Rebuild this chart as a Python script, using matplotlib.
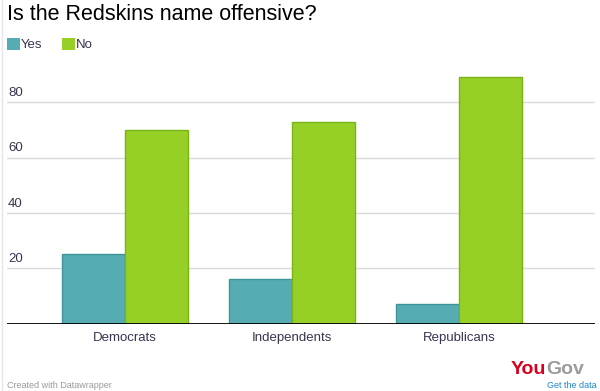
import matplotlib
matplotlib.use("Agg")
import matplotlib.pyplot as plt
from matplotlib.patches import Rectangle
from matplotlib.lines import Line2D
import matplotlib.transforms as mtransforms
import numpy as np

categories = ["Democrats", "Independents", "Republicans"]
yes_values = [25, 16, 7]
no_values = [70, 73, 89]
ytick_values = [20, 40, 60, 80]
series_names = ["Yes", "No"]

yes_color = "#55ACB2"
yes_edge = "#3F9499"
no_color = "#96D026"
no_edge = "#78B414"
text_color = "#3a3450"

plt.rcParams['font.family'] = ['Liberation Sans', 'DejaVu Sans']

fig = plt.figure(figsize=(6.0, 3.91), dpi=100)
ax = fig.add_axes([7/600, 67.4/391, 588/600, (323.6-69)/391])

x = np.arange(len(categories))
w = 0.377
ax.bar(x - w/2, yes_values, width=w, color=yes_color, edgecolor=yes_edge, linewidth=1.0, zorder=3)
ax.bar(x + w/2, no_values, width=w, color=no_color, edgecolor=no_edge, linewidth=1.0, zorder=3)

ax.set_xlim(-0.707, 2.814)
ax.set_ylim(0, 92)

for v in ytick_values:
    ax.axhline(v, color="#D9D9D9", linewidth=1.0, zorder=1)
    ax.text(0.002, v + 1.2, str(v), transform=mtransforms.blended_transform_factory(ax.transAxes, ax.transData),
            ha="left", va="bottom", fontsize=9.5, color=text_color)
ax.axhline(0, color="black", linewidth=1.3, zorder=4)

for s in ax.spines.values():
    s.set_visible(False)
ax.set_yticks([])
ax.set_xticks(x)
ax.set_xticklabels(categories, fontsize=9.5, color=text_color)
ax.tick_params(axis="x", length=0, pad=6)

# title
fig.text(7/600, 1 - 15/391, "Is the Redskins name offensive?", fontsize=15.5, color="black",
         ha="left", va="center")

# legend
fig.patches.append(Rectangle((7/600, 1 - 50/391), 13/600, 12/391, transform=fig.transFigure,
                             facecolor=yes_color, edgecolor="none"))
fig.text(21/600, 1 - 44.5/391, series_names[0], fontsize=9.5, color=text_color, ha="left", va="center")
fig.patches.append(Rectangle((62/600, 1 - 50/391), 13/600, 12/391, transform=fig.transFigure,
                             facecolor=no_color, edgecolor="none"))
fig.text(76/600, 1 - 44.5/391, series_names[1], fontsize=9.5, color=text_color, ha="left", va="center")

# YouGov logo
t1 = fig.text(511/600, 1 - 369/391, "You", fontsize=14, fontweight="bold", color="#D8001E",
              ha="left", va="center")
fig.canvas.draw()
bb = t1.get_window_extent()
fig.text(bb.x1/600 - 0.5/600, 1 - 369/391, "Gov", fontsize=14, fontweight="bold", color="#9B9B9B",
         ha="left", va="center")

# footer
fig.text(7/600, 1/391, "Created with Datawrapper", fontsize=6.5, color="#999999", ha="left", va="bottom")
fig.text(597/600, 1/391, "Get the data", fontsize=6.5, color="#1E88D0", ha="right", va="bottom")

# light left border
fig.lines.append(Line2D([1.5/600, 1.5/600], [0, 1], transform=fig.transFigure, color="#E6E6E6", linewidth=1))

fig.savefig("out.png", dpi=100, facecolor="white")
